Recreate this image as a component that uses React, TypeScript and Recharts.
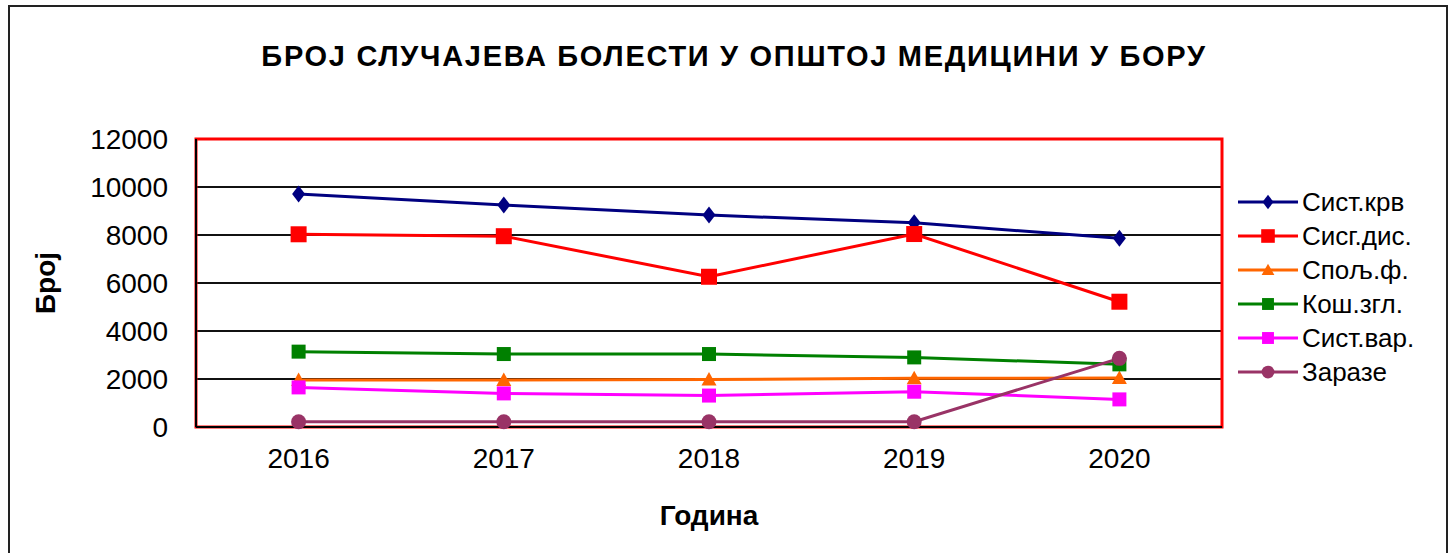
import React from "react";
import {
  LineChart,
  Line,
  XAxis,
  YAxis,
  CartesianGrid,
  Legend,
  ReferenceArea,
} from "recharts";

const years = ["2016", "2017", "2018", "2019", "2020"];
const sistKrv = [9710, 9250, 8830, 8510, 7860];
const sisgDis = [8030, 7950, 6260, 8040, 5220];
const spoljF = [1960, 1960, 1980, 2030, 2040];
const koshZgl = [3140, 3040, 3040, 2900, 2610];
const sistVar = [1650, 1400, 1310, 1470, 1150];
const zaraze = [220, 220, 220, 220, 2860];
const yTicks = [0, 2000, 4000, 6000, 8000, 10000, 12000];

const seriesNames = ["Сист.крв", "Сисг.дис.", "Спољ.ф.", "Кош.згл.", "Сист.вар.", "Заразе"];
const seriesColors = ["#000080", "#ff0000", "#ff6600", "#008000", "#ff00ff", "#993366"];
const seriesShapes = ["diamond", "bigSquare", "triangle", "square", "square", "circle"];
const seriesKeys = ["krv", "dis", "spolj", "kosh", "var", "zar"];

const data = years.map((y, i) => ({
  year: y,
  krv: sistKrv[i],
  dis: sisgDis[i],
  spolj: spoljF[i],
  kosh: koshZgl[i],
  var: sistVar[i],
  zar: zaraze[i],
}));

const FONT = "'Liberation Sans', Arial, sans-serif";

function Marker({ cx, cy, shape, color, scale = 1 }: any) {
  if (cx == null || cy == null) return null;
  const s = scale;
  if (shape === "diamond") {
    const w = 6.5 * s, h = 8.5 * s;
    return <polygon points={`${cx},${cy - h} ${cx + w},${cy} ${cx},${cy + h} ${cx - w},${cy}`} fill={color} />;
  }
  if (shape === "bigSquare") {
    const h = 8 * s;
    return <rect x={cx - h} y={cy - h} width={2 * h} height={2 * h} fill={color} />;
  }
  if (shape === "square") {
    const h = 7 * s;
    return <rect x={cx - h} y={cy - h} width={2 * h} height={2 * h} fill={color} />;
  }
  if (shape === "triangle") {
    const h = 7.5 * s;
    return <polygon points={`${cx},${cy - h} ${cx + h},${cy + h * 0.8} ${cx - h},${cy + h * 0.8}`} fill={color} />;
  }
  return <circle cx={cx} cy={cy} r={7.5 * s} fill={color} />;
}

function LegendBox() {
  return (
    <div style={{ fontFamily: FONT }}>
      {seriesNames.map((name, i) => (
        <div key={name} style={{ height: 34, display: "flex", alignItems: "center" }}>
          <svg width={62} height={34}>
            <line x1={0} y1={17} x2={60} y2={17} stroke={seriesColors[i]} strokeWidth={3} />
            <Marker cx={30} cy={17} shape={seriesShapes[i]} color={seriesColors[i]} scale={0.85} />
          </svg>
          <span style={{ fontSize: 26, color: "#000", marginLeft: 2, lineHeight: "34px" }}>{name}</span>
        </div>
      ))}
    </div>
  );
}

export default function App() {
  return (
    <div
      style={{
        position: "fixed",
        left: 0,
        top: 0,
        width: 1456,
        height: 553,
        overflow: "hidden",
        background: "#fff",
        fontFamily: FONT,
      }}
    >
      <div
        style={{
          position: "absolute",
          left: 8,
          top: 5,
          width: 1436,
          height: 600,
          border: "2px solid #222",
        }}
      />
      <div
        style={{
          position: "absolute",
          left: 0,
          top: 40,
          width: 1468,
          textAlign: "center",
          fontSize: 29,
          fontWeight: "bold",
          color: "#000",
          letterSpacing: 1.7,
        }}
      >
        БРОЈ СЛУЧАЈЕВА БОЛЕСТИ У ОПШТОЈ МЕДИЦИНИ У БОРУ
      </div>
      <div style={{ position: "absolute", left: 0, top: 0 }}>
        <LineChart
          width={1456}
          height={553}
          data={data}
          margin={{ top: 139, right: 234, bottom: 66, left: 0 }}
        >
          <CartesianGrid vertical={false} stroke="#111" strokeWidth={2} />
          <ReferenceArea y1={0} y2={12000} fill="none" stroke="#ff0000" strokeWidth={3} />
          <XAxis
            dataKey="year"
            scale="band"
            height={60}
            tickLine={false}
            axisLine={{ stroke: "#000", strokeWidth: 2 }}
            tickMargin={15}
            tick={{ fill: "#000", fontSize: 28, fontFamily: FONT }}
            label={{
              value: "Година",
              position: "bottom",
              offset: 18,
              fill: "#000",
              fontSize: 28,
              fontWeight: "bold",
              fontFamily: FONT,
            }}
          />
          <YAxis
            width={196}
            domain={[0, 12000]}
            ticks={yTicks}
            interval={0}
            tickLine={false}
            axisLine={{ stroke: "#000", strokeWidth: 2 }}
            tickMargin={22}
            tick={{ fill: "#000", fontSize: 28, fontFamily: FONT }}
            label={{
              content: (props: any) => {
                const vb = props.viewBox || { x: 0, y: 139, height: 288 };
                const x = vb.x + 45;
                const y = vb.y + vb.height / 2;
                return (
                  <text
                    x={x}
                    y={y}
                    transform={`rotate(-90, ${x}, ${y})`}
                    textAnchor="middle"
                    dominantBaseline="central"
                    fontSize={28}
                    fontWeight="bold"
                    fontFamily={FONT}
                    fill="#000"
                  >
                    Број
                  </text>
                );
              },
            }}
          />
          <Legend
            layout="vertical"
            align="center"
            verticalAlign="middle"
            wrapperStyle={{ left: 1238, top: 185, width: 210 }}
            content={() => <LegendBox />}
          />
          {seriesKeys.map((k, i) => (
            <Line
              key={k}
              dataKey={k}
              name={seriesNames[i]}
              stroke={seriesColors[i]}
              strokeWidth={3}
              isAnimationActive={false}
              dot={(p: any) => (
                <Marker
                  key={`${k}-${p.index}`}
                  cx={p.cx}
                  cy={p.cy}
                  shape={seriesShapes[i]}
                  color={seriesColors[i]}
                />
              )}
              activeDot={false}
            />
          ))}
        </LineChart>
      </div>
    </div>
  );
}
